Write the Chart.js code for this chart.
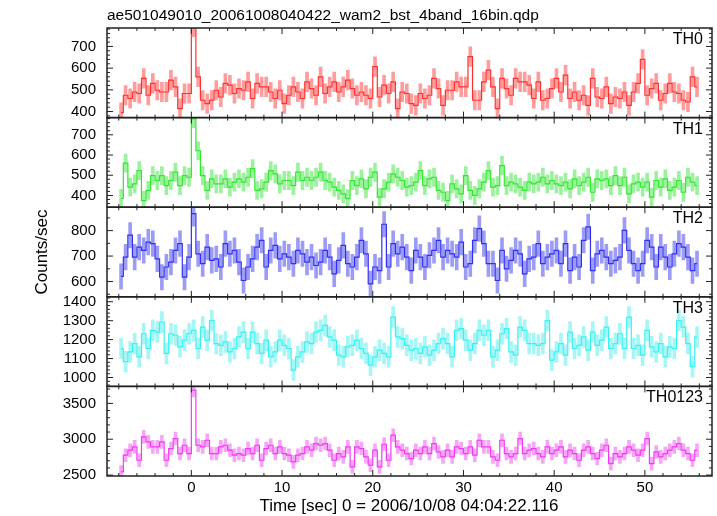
<!DOCTYPE html>
<html>
<head>
<meta charset="utf-8">
<script src="https://cdn.jsdelivr.net/npm/chart.js@4.4.1/dist/chart.umd.min.js"></script>
<style>
  html, body { margin: 0; padding: 0; background: #fff; }
  #wrap { position: relative; width: 717px; height: 516px; font-family: "Liberation Sans", Arial, sans-serif; color: #000; }
  #lc { position: absolute; left: 0; top: 0; }
  .txt { position: absolute; white-space: nowrap; }
</style>
</head>
<body>
<div id="wrap">
  <canvas id="lc" width="717" height="516"></canvas>
  <div class="txt" style="left:107px;top:7px;font-size:15.5px;line-height:16px;">ae501049010_20061008040422_wam2_bst_4band_16bin.qdp</div>
  <div class="txt" style="left:409px;top:497px;font-size:17px;line-height:17px;transform:translateX(-50%);">Time [sec] 0 = 2006/10/08 04:04:22.116</div>
</div>
<script>
'use strict';
/*------ data (counts/sec, 0.5 s bins) ------*/
const binStart = -7.75;
const binWidth = 0.5;

const th0 = [
  395, 475, 460, 490, 483, 553, 475, 530, 498, 490, 490, 545, 514, 413, 483, 483, 790, 560, 452, 436,
  452, 498, 467, 530, 522, 483, 506, 498, 537, 460, 530,
  514, 514, 490, 460, 498, 436, 475, 514, 490, 460, 537, 506, 475, 560, 483, 514, 537, 490, 514, 545,
  506, 475, 490, 475, 460, 607, 467, 522, 483, 537, 413,
  490, 483, 436, 428, 483, 460, 475, 553, 506, 428, 498, 498, 537, 514, 514, 653, 452, 452, 537, 591,
  514, 413, 553, 506, 475, 553, 537, 537, 522, 460, 537, 452, 460,
  506, 553, 490, 568, 460, 490, 452, 475, 428, 553, 467, 460, 514, 436, 467, 460, 490, 428, 490, 530,
  640, 475, 506, 530, 452, 483, 530, 490, 483, 452, 444, 560, 514
];
const th1 = [
  385, 560, 441, 457, 523, 375, 425, 498, 474, 498, 449, 474, 515, 449, 498, 490, 780, 621, 498, 425,
  482, 457, 457, 482, 441, 466, 482, 466, 490, 533, 425, 433, 466, 523, 507, 457, 474, 474, 449, 515,
  474, 490, 474, 490, 515, 474, 466, 441, 425, 408, 384, 474, 449, 482, 433, 490, 515, 392, 433,
  466, 507, 490, 474, 441, 449, 466, 523, 449, 482, 490, 425, 416, 375, 457, 433, 408, 498, 425, 400,
  433, 466, 523, 441, 449, 548, 449, 466, 457, 441, 425, 466, 457, 466, 490, 457, 474, 457, 449, 466,
  433, 482, 449, 466, 490, 416, 482, 474, 482, 449, 498, 449, 490, 408, 457, 466, 441, 466, 392, 474,
  441, 482, 425, 441, 474, 416, 490, 466, 449
];
const th2 = [
  620, 696, 782, 696, 735, 722, 755, 749, 689, 617, 657, 676, 722, 749, 617, 696, 867, 709, 670, 735,
  683, 689, 657, 749, 709, 722, 676, 604, 657, 689, 735, 762, 657, 722, 742, 689, 709, 696, 670, 722,
  709, 676, 696, 663, 676, 722, 696, 630, 683, 742, 670, 657, 696, 762, 709, 591, 657, 643, 825,
  657, 749, 709, 735, 696, 643, 722, 696, 657, 703, 722, 762, 696, 722, 709, 696, 755, 657, 670, 762,
  808, 749, 670, 670, 604, 722, 650, 683, 722, 709, 630, 689, 696, 749, 670, 696, 709, 722, 670, 749,
  643, 696, 657, 762, 815, 643, 709, 722, 696, 670, 683, 696, 801, 722, 670, 643, 670, 762, 735, 657,
  735, 696, 657, 709, 749, 735, 696, 643, 670
];
const th3 = [
  1153, 1083, 1135, 1179, 1109, 1231, 1153, 1249, 1240, 1293, 1127, 1231, 1223, 1162, 1197, 1231, 1249, 1153, 1266, 1197,
  1301, 1179, 1170, 1188, 1135, 1153, 1214, 1240, 1153, 1240, 1179, 1127, 1197, 1109, 1135, 1197, 1170, 1153, 1039, 1109,
  1135, 1188, 1179, 1240, 1249, 1275, 1214, 1197, 1118, 1109, 1162, 1170, 1197, 1153, 1127, 1065, 1109, 1144, 1127,
  1109, 1319, 1214, 1205, 1170, 1144, 1153, 1127, 1162, 1118, 1144, 1179, 1205, 1179, 1109, 1249, 1258, 1197, 1144, 1179,
  1249, 1223, 1249, 1109, 1144, 1231, 1258, 1135, 1118, 1266, 1249, 1179, 1179, 1170, 1179, 1301, 1092, 1135, 1179, 1118,
  1240, 1153, 1170, 1214, 1144, 1240, 1170, 1197, 1266, 1153, 1179, 1231, 1153, 1319, 1153, 1170, 1118, 1249, 1162, 1135,
  1179, 1109, 1162, 1153, 1301, 1266, 1179, 1057, 1214
];
const th0123 = [
  2544, 2777, 2847, 2893, 2707, 3033, 2963, 2893, 2893, 2963, 2707, 2870, 3009, 2800, 2916, 2800, 3684, 2916, 2893, 2986,
  2800, 2800, 2893, 2916, 2847, 2777, 2800, 2777, 2870, 2800, 2916, 2707, 2870, 2916, 2800, 2893, 2800, 2777, 2684, 2777,
  2800, 2893, 2847, 2940, 2916, 2940, 2847, 2707, 2800, 2754, 2893, 2614, 2893, 2870, 2754, 2637, 2847, 2614, 2930,
  2707, 3056, 2893, 2847, 2800, 2730, 2847, 2800, 2893, 2800, 2940, 2823, 2754, 2847, 2754, 2893, 2870, 2800, 2893, 2777,
  2986, 2893, 2893, 2754, 2707, 2986, 2800, 2754, 2800, 3009, 2800, 2847, 2870, 2800, 2754, 2893, 2800, 2847, 2893, 2754,
  2847, 2800, 2707, 2847, 2893, 2800, 2730, 2847, 2916, 2660, 2800, 2754, 2800, 2893, 2847, 2777, 2847, 3009, 2660, 2823,
  2754, 2800, 2847, 2893, 2940, 2847, 2800, 2707, 2847
];
// typical 1-sigma error per band
const errHalf = [45, 45, 50, 55, 90];

const panelNames = ['TH0', 'TH1', 'TH2', 'TH3', 'TH0123'];
const yMin = [372, 342, 540, 953, 2487];
const yMax = [785, 785, 892, 1426, 3737];
const yTicks = [
  [400, 500, 600, 700],
  [400, 500, 600, 700],
  [600, 700, 800],
  [1000, 1100, 1200, 1300, 1400],
  [2500, 3000, 3500]
];
const yMinor = [20, 20, 50, 20, 100];
const xMin = -9.3;
const xMax = 57.4;
const xTicks = [0, 10, 20, 30, 40, 50];
const yTitle = 'Counts/sec';

/*------ styles ------*/
const series = [th0, th1, th2, th3, th0123];
const lineColors = ['#ff3030', '#30e830', '#3030f2', '#38f2f2', '#f238f2'];
const errColors = ['#ff9c9c', '#9cf29c', '#9c9cf6', '#a6f6f6', '#f6a6f6'];
const fontFamily = '"Liberation Sans", Arial, sans-serif';

let times = th0.map((v, i) => binStart + i * binWidth);

let datasets = [];
for (let k = 0; k < series.length; k++) {
  datasets.push({
    type: 'line',
    yAxisID: 'y' + k,
    data: series[k].map((v, i) => ({ x: times[i], y: v })),
    borderColor: lineColors[k],
    borderWidth: 1.2,
    pointRadius: 0,
    stepped: 'middle',
    order: 0
  });
  datasets.push({
    type: 'bar',
    yAxisID: 'y' + k,
    data: series[k].map((v, i) => ({ x: times[i], y: [v - errHalf[k], v + errHalf[k]] })),
    backgroundColor: errColors[k],
    barThickness: 3,
    grouped: false,
    order: 1
  });
}

// stacked scales: the first one listed sits at the bottom
let scales = {
  x: {
    type: 'linear',
    min: xMin,
    max: xMax,
    offset: false,
    afterBuildTicks: s => { s.ticks = xTicks.map(v => ({ value: v })); },
    afterFit: s => { s.height = 40; },
    grid: { display: false, drawTicks: false },
    border: { display: false },
    ticks: { font: { family: fontFamily, size: 15 }, color: '#000', padding: 3, maxRotation: 0, autoSkip: false }
  }
};
for (let k = series.length - 1; k >= 0; k--) {
  scales['y' + k] = {
    type: 'linear',
    position: 'left',
    stack: 'panels',
    stackWeight: 1,
    min: yMin[k],
    max: yMax[k],
    afterBuildTicks: s => { s.ticks = yTicks[k].map(v => ({ value: v })); },
    afterFit: s => { s.width = 107; },
    grid: { display: false, drawTicks: false },
    border: { display: false },
    ticks: {
      font: { family: fontFamily, size: 15 }, color: '#000', padding: 11, autoSkip: false,
      callback: v => String(v)
    }
  };
}

/*------ frames, inward ticks, band names ------*/
const panelFrames = {
  id: 'panelFrames',
  beforeDatasetDraw(chart, args) {
    const ys = chart.scales[args.meta.yAxisID];
    const a = chart.chartArea;
    chart.ctx.save();
    chart.ctx.beginPath();
    chart.ctx.rect(a.left, ys.top, a.right - a.left, ys.bottom - ys.top);
    chart.ctx.clip();
  },
  afterDatasetDraw(chart) {
    chart.ctx.restore();
  },
  afterDraw(chart) {
    const ctx = chart.ctx;
    const xs = chart.scales.x;
    const a = chart.chartArea;
    ctx.save();
    ctx.strokeStyle = '#222';
    ctx.fillStyle = '#000';
    ctx.font = '16px ' + fontFamily;
    ctx.textAlign = 'right';
    ctx.textBaseline = 'alphabetic';
    for (let k = 0; k < series.length; k++) {
      const ys = chart.scales['y' + k];
      const top = ys.top;
      const bot = ys.bottom;
      ctx.lineWidth = 1.5;
      ctx.strokeRect(a.left, top, a.right - a.left, bot - top);
      ctx.lineWidth = 1;
      ctx.beginPath();
      for (let v = -8; v <= 56; v += 2) {
        const px = xs.getPixelForValue(v);
        const len = v % 10 === 0 ? 6 : 3;
        ctx.moveTo(px, top); ctx.lineTo(px, top + len);
        ctx.moveTo(px, bot); ctx.lineTo(px, bot - len);
      }
      const step = yMinor[k];
      for (let v = Math.ceil(yMin[k] / step) * step; v <= yMax[k]; v += step) {
        const py = ys.getPixelForValue(v);
        const len = yTicks[k].includes(v) ? 6 : 3;
        ctx.moveTo(a.left, py); ctx.lineTo(a.left + len, py);
        ctx.moveTo(a.right, py); ctx.lineTo(a.right - len, py);
      }
      ctx.stroke();
      ctx.fillText(panelNames[k], a.right - 9, top + 16);
    }
    // y title, centred on the stack of panels
    ctx.font = '17px ' + fontFamily;
    ctx.textAlign = 'center';
    ctx.textBaseline = 'middle';
    ctx.translate(42, (a.top + a.bottom) / 2);
    ctx.rotate(-Math.PI / 2);
    ctx.fillText(yTitle, 0, 0);
    ctx.restore();
  }
};

new Chart(document.getElementById('lc'), {
  type: 'line',
  data: { datasets: datasets },
  options: {
    responsive: false,
    animation: false,
    layout: { padding: { top: 28, right: 5, left: 0, bottom: 0 } },
    plugins: { legend: { display: false }, tooltip: { enabled: false }, title: { display: false } },
    scales: scales
  },
  plugins: [panelFrames]
});
</script>
</body>
</html>
